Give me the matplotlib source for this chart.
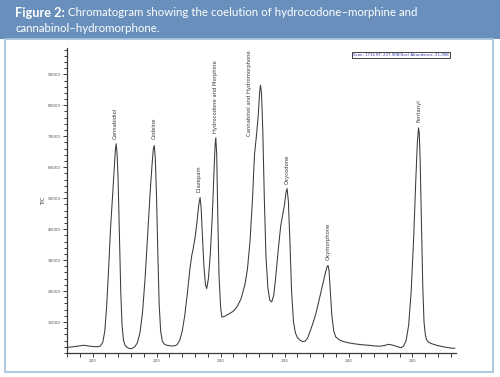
"""
Chromatogram figure: coelution of hydrocodone-morphine and cannabinol-hydromorphone.
"""

import matplotlib

matplotlib.use("Agg")
import matplotlib.pyplot as plt
from matplotlib.patches import Rectangle
from matplotlib.ticker import MultipleLocator

# retention time (min) and total ion current
rt = [
    218.0, 218.3, 218.6, 219.0, 219.3, 219.6, 220.0, 220.3, 220.6, 220.8,
    220.95, 221.1, 221.25, 221.4, 221.55, 221.68, 221.78, 221.84, 221.92, 222.0,
    222.1, 222.2, 222.3, 222.42, 222.55, 222.7, 222.9, 223.1, 223.3, 223.5,
    223.7, 223.9, 224.1, 224.3, 224.5, 224.65, 224.75, 224.82, 224.9, 225.0,
    225.1, 225.2, 225.32, 225.45, 225.6, 225.8, 226.1, 226.4, 226.6, 226.8,
    227.0, 227.2, 227.4, 227.6, 227.75, 227.85, 228.0, 228.15, 228.3, 228.4,
    228.48, 228.58, 228.7, 228.82, 228.92, 229.05, 229.2, 229.35, 229.48, 229.57,
    229.63, 229.7, 229.78, 229.88, 230.0, 230.1, 230.3, 230.6, 231.0, 231.3,
    231.6, 231.9, 232.1, 232.3, 232.5, 232.65, 232.8, 232.95, 233.05, 233.12,
    233.2, 233.3, 233.42, 233.55, 233.7, 233.85, 234.0, 234.15, 234.3, 234.5,
    234.7, 234.85, 235.0, 235.12, 235.2, 235.3, 235.42, 235.55, 235.7, 235.85,
    236.0, 236.2, 236.4, 236.6, 236.8, 237.0, 237.25, 237.5, 237.75, 238.0,
    238.2, 238.32, 238.4, 238.48, 238.58, 238.7, 238.85, 239.0, 239.3, 239.6,
    240.0, 240.4, 240.8, 241.2, 241.6, 242.0, 242.4, 242.8, 243.1, 243.4,
    243.8, 244.1, 244.3, 244.5, 244.7, 244.9, 245.1, 245.25, 245.38, 245.47,
    245.53, 245.6, 245.7, 245.8, 245.9, 246.0, 246.1, 246.25, 246.5, 246.8,
    247.1, 247.4, 247.7, 248.0, 248.3,
]
tic = [
    1800, 1900, 2100, 2300, 2500, 2300, 2100, 2000, 2200, 3500,
    7000, 15000, 27000, 40000, 50000, 59000, 65500, 67600, 64000, 55000,
    38000, 20000, 9000, 4000, 2400, 1800, 1400, 1500, 2000, 3300,
    6500, 13000, 24000, 38000, 52000, 61000, 66000, 67000, 63000, 50000,
    32000, 16000, 7000, 3800, 2900, 2500, 2300, 2300, 2700, 4000,
    7000, 12000, 19000, 27000, 31500, 33500, 37000, 42000, 48000, 50200,
    47000, 38000, 28000, 22000, 20800, 24000, 32000, 44000, 58000, 67000,
    69500, 64000, 45000, 25000, 15000, 11600, 11800, 12500, 13500, 15000,
    17500, 22000, 27000, 36000, 50000, 64000, 70000, 77000, 84000, 86500,
    84000, 72000, 50000, 31000, 21000, 17000, 16500, 18500, 24000, 33000,
    41000, 44500, 48000, 52000, 53100, 49000, 36000, 20000, 10000, 6500,
    5000, 4200, 3700, 3800, 4800, 7000, 10000, 13500, 18000, 22500,
    26000, 27800, 28300, 26500, 20000, 12000, 7000, 5200, 4200, 3700,
    3300, 3000, 2800, 2600, 2500, 2300, 2200, 2400, 2800, 2600,
    2100, 1700, 2200, 4000, 9000, 20000, 38000, 55000, 68000, 72700,
    71000, 62000, 42000, 22000, 10000, 6000, 4300, 3500, 3000, 2600,
    2300, 2000, 1800, 1600, 1500,
]

# peak labels: name, retention time of label, height of label base
peak_names = [
    "Cannabidiol", "Codeine", "Diazepam", "Hydrocodone and Morphine",
    "Cannabinol and Hydromorphone", "Oxycodone", "Oxymorphone", "Fentanyl",
]
peak_rt = [221.8, 224.8, 228.3, 229.6, 232.3, 235.2, 238.4, 245.5]
peak_top = [69000, 69000, 52000, 71000, 70000, 54500, 30000, 74500]

title_bold = "Figure 2:"
title_rest = " Chromatogram showing the coelution of hydrocodone\u2013morphine and"
title_line2 = "cannabinol\u2013hydromorphone."
scan_info = "Scan: 1716 RT: 237.908(Sec) Abundance: 21,908"

HEADER = "#6990bd"
BORDER = "#aac4e0"
INK = "#3a3a3a"
TITLE_FONT = dict(color="white", family="Lato", va="center")

fig = plt.figure(figsize=(5.0, 3.77), dpi=100)

# header band and panel outline, kept behind the axes
fig.patches.append(Rectangle((0, 1 - 39 / 377), 1, 39 / 377, transform=fig.transFigure,
                             fc=HEADER, ec="none", zorder=-2))
fig.patches.append(Rectangle((5 / 500, 5 / 377), 488 / 500, (372 - 39) / 377,
                             transform=fig.transFigure, fc="white", ec=BORDER, lw=1.3,
                             zorder=-1))

fig.text(15 / 500, 1 - 13 / 377, title_bold, fontweight="bold", fontsize=9.2, **TITLE_FONT)
fig.canvas.draw()
r = fig.canvas.get_renderer()
bb = fig.texts[-1].get_window_extent(r)
fig.text(bb.x1 / 500, 1 - 13 / 377, title_rest, fontsize=8.3, **TITLE_FONT)
fig.text(15 / 500, 1 - 29 / 377, title_line2, fontsize=8.3, **TITLE_FONT)

ax = fig.add_axes([67 / 500, (377 - 353) / 377, (456 - 67) / 500, (353 - 48) / 377])
ax.patch.set_alpha(0)
ax.plot(rt, tic, color=INK, lw=0.75)
ax.set_xlim(218.0, 248.4)
ax.set_ylim(0, 98500)

for s in ("top", "right"):
    ax.spines[s].set_visible(False)
for s in ("left", "bottom"):
    ax.spines[s].set_color(INK)
    ax.spines[s].set_linewidth(0.9)

ax.xaxis.set_major_locator(MultipleLocator(5))
ax.xaxis.set_minor_locator(MultipleLocator(1))
ax.yaxis.set_minor_locator(MultipleLocator(2000))
ax.set_yticks(range(10000, 100000, 10000))
ax.tick_params(which="both", direction="out", colors=INK, labelsize=3, width=0.7,
               labelcolor="#555555", pad=1.5)
ax.tick_params(which="major", length=3)
ax.tick_params(which="minor", length=2.5)
ax.tick_params(axis="x", which="minor", length=3)
ax.set_ylabel("TIC", fontsize=4, color=INK, labelpad=1)

for name, x, y in zip(peak_names, peak_rt, peak_top):
    ax.text(x, y, name, rotation=90, ha="center", va="bottom", fontsize=3.8, color=INK)

ax.text(0.735, 0.985, scan_info, transform=ax.transAxes, fontsize=2.8, color="#3333aa",
        ha="left", va="top",
        bbox=dict(boxstyle="square,pad=0.25", fc="white", ec="#222222", lw=0.6))

fig.savefig("out.png", dpi=100)
